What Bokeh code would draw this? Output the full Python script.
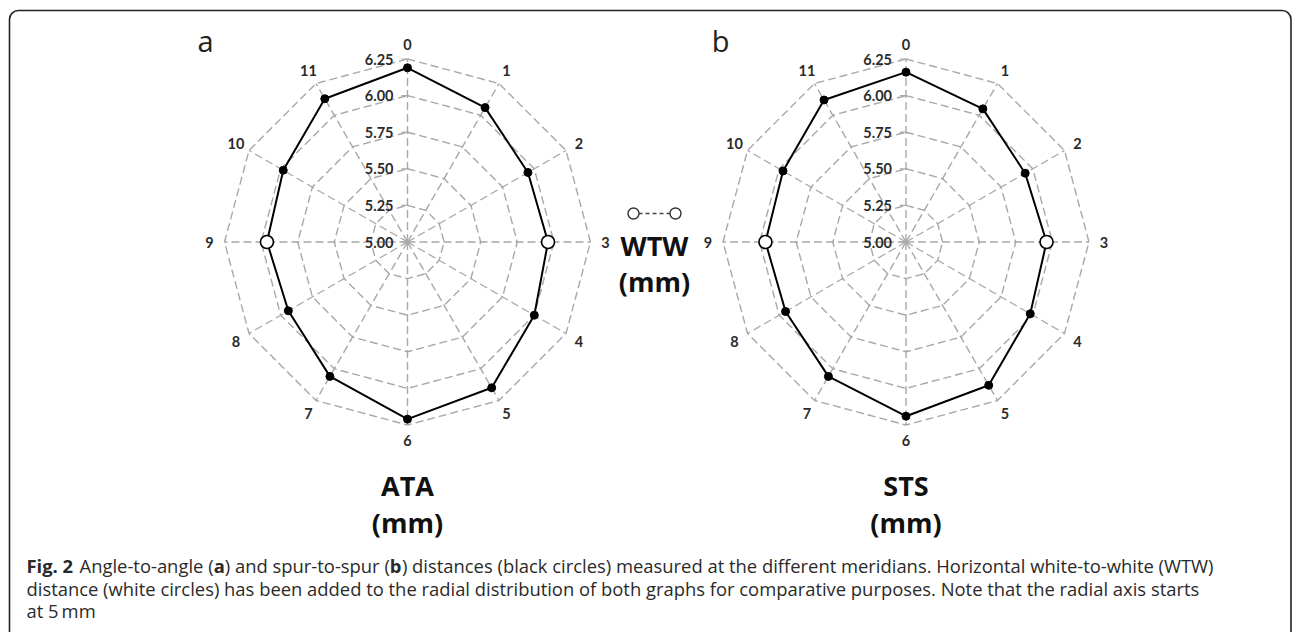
import numpy as np
from bokeh.plotting import figure
from bokeh.models import Range1d
from bokeh.core.properties import value
from bokeh.embed import file_html
from bokeh.resources import INLINE

# ---------------- data ----------------
meridians = ["0", "1", "2", "3", "4", "5", "6", "7", "8", "9", "10", "11"]
ata = [6.19, 6.06, 5.95, 5.96, 6.00, 6.15, 6.21, 6.06, 5.94, 5.96, 5.98, 6.13]
sts = [6.16, 6.05, 5.94, 5.96, 5.98, 6.13, 6.19, 6.06, 5.95, 5.96, 5.97, 6.12]
wtw = 5.96
wtw_meridians = [3, 9]
ring_values = [5.25, 5.50, 5.75, 6.00, 6.25]
ring_labels = ["5.00", "5.25", "5.50", "5.75", "6.00", "6.25"]
r_min = 5.0
r_max = 6.25

# ---------------- layout helpers ----------------
W, H = 1292, 632
S = 146.4            # pixels per mm on the radial axis
CX_A, CY = 407.0, 241.5
CX_B = 905.5

def X(px):
    return (px - CX_A) / S

def Y(py):
    return (CY - py) / S

center_a = (0.0, 0.0)
center_b = (X(CX_B), 0.0)

p = figure(width=W, height=H, output_backend="svg", toolbar_location=None,
           x_range=Range1d(X(0), X(W)), y_range=Range1d(Y(H), Y(0)),
           min_border=0, outline_line_color=None, background_fill_color="white",
           border_fill_color="white")
p.axis.visible = False
p.grid.visible = False

angles = np.arange(12) * 2 * np.pi / 12.0

def polar(center, v, k):
    r = np.asarray(v) - r_min
    return center[0] + r * np.sin(angles[k]), center[1] + r * np.cos(angles[k])

grid_col = "#a8a8a8"
ink = "#2b2b2b"

def radar(center, series):
    idx = np.arange(12)
    # spokes
    xs, ys = [], []
    for k in idx:
        ex, ey = polar(center, r_max, k)
        xs.append([center[0], ex]); ys.append([center[1], ey])
    p.multi_line(xs, ys, line_color=grid_col, line_width=1.4, line_dash="8 4")
    # rings
    xs, ys = [], []
    for rv in ring_values:
        kk = np.array(list(idx) + [0])
        px_, py_ = polar(center, [rv] * 13, kk)
        xs.append(list(px_)); ys.append(list(py_))
    p.multi_line(xs, ys, line_color=grid_col, line_width=1.4, line_dash="8 4")
    # small ticks on the vertical axis
    tx, ty = [], []
    for rv in [r_min] + ring_values:
        tx.append([center[0] - 6 / S, center[0] + 1 / S]); ty.append([center[1] + rv - r_min] * 2)
    p.multi_line(tx, ty, line_color=grid_col, line_width=1.2)
    # radial tick labels
    p.text(x=[center[0] - 14 / S] * 6, y=[center[1] + v - r_min for v in [5.0] + ring_values],
           text=ring_labels, text_font=value("Lato"), text_font_style="bold",
           text_font_size="14.5px", text_align="right", text_baseline="middle",
           text_color=ink)
    # meridian labels
    lr = 198 / S
    p.text(x=list(center[0] + lr * np.sin(angles)), y=list(center[1] + lr * np.cos(angles)),
           text=meridians, text_font=value("Lato"), text_font_style="bold",
           text_font_size="14.5px", text_align="center", text_baseline="middle",
           text_color=ink)
    # data line
    kk = np.array(list(idx) + [0])
    vals = [series[k] for k in kk]
    lx, ly = polar(center, vals, kk)
    p.line(list(lx), list(ly), line_color="black", line_width=2)
    bx, by = polar(center, series, idx)
    p.scatter(list(bx), list(by), size=8, fill_color="black", line_color="black")
    wk = np.array(wtw_meridians)
    wx, wy = polar(center, [wtw] * len(wk), wk)
    p.scatter(list(wx), list(wy), size=13, fill_color="white", line_color="black", line_width=1.6)

radar(center_a, ata)
radar(center_b, sts)

# ---------------- frame ----------------
p.quad(left=[X(9)], right=[X(1290.5)], top=[Y(10)], bottom=[Y(720)],
       fill_color=None, line_color="#222222", line_width=1.6, border_radius=9)

# ---------------- panel letters and axis titles ----------------
p.text(x=[X(205), X(720)], y=[Y(40), Y(40)], text=["a", "b"], text_font=value("Open Sans"),
       text_font_size="29px", text_align="center", text_baseline="middle", text_color="#222")

p.text(x=[X(407), X(407), X(905.5), X(905.5), X(654), X(654)],
       y=[Y(485), Y(522), Y(485), Y(522), Y(245), Y(281)],
       text=["ATA", "(mm)", "STS", "(mm)", "WTW", "(mm)"],
       text_font=value("Open Sans"), text_font_style="bold", text_font_size="27px",
       text_align="center", text_baseline="middle", text_color="#111")

# WTW legend sample
p.line([X(638), X(670)], [Y(213), Y(213)], line_color="#444", line_width=1.4, line_dash="4 3")
p.scatter([X(633), X(675)], [Y(213), Y(213)], size=11, fill_color="white",
          line_color="#333", line_width=1.4)

# ---------------- caption ----------------
cap_font = value("Open Sans")
cap_px = 18.4
cap_col = "#2a2a2a"
line_y = [565, 587.5, 610]
seg_text = ["Fig. 2", "Angle-to-angle (", "a", ") and spur-to-spur (", "b",
            ") distances (black circles) measured at the different meridians. Horizontal white-to-white (WTW)",
            "distance (white circles) has been added to the radial distribution of both graphs for comparative purposes. Note that the radial axis starts",
            "at 5\u2009mm"]
seg_bold = [True, False, True, False, True, False, False, False]
seg_line = [0, 0, 0, 0, 0, 0, 1, 2]
# advance (in em) of each inline piece of the first line (incl. the space after "Fig. 2")
adv_em = [2.625 + 0.26, 7.293, 0.60, 8.97, 0.653]
seg_x = [26.0]
for a_ in adv_em:
    seg_x.append(seg_x[-1] + a_ * cap_px)
seg_x += [26.0, 26.0]

for bold in (True, False):
    ii = [i for i in range(len(seg_text)) if seg_bold[i] == bold]
    p.text(x=[X(seg_x[i]) for i in ii], y=[Y(line_y[seg_line[i]]) for i in ii],
           text=[seg_text[i] for i in ii], text_font=cap_font,
           text_font_style="bold" if bold else "normal", text_font_size=f"{cap_px}px",
           text_align="left", text_baseline="middle", text_color=cap_col)

open("out.html", "w").write(file_html(p, INLINE))
